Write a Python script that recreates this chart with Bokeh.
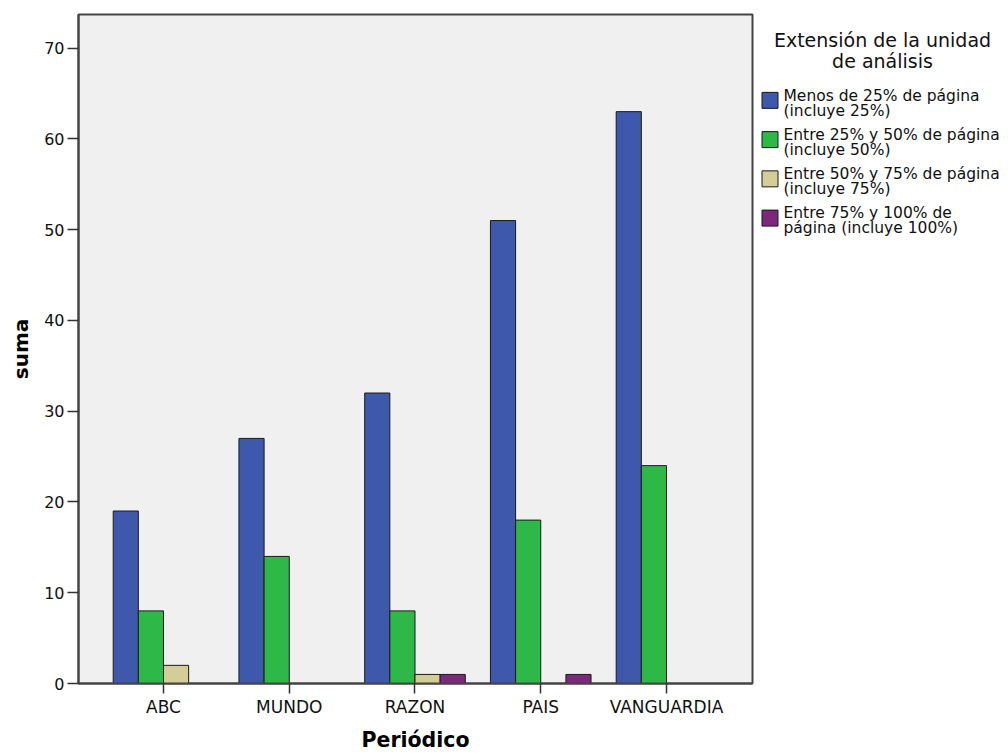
from bokeh.plotting import figure
from bokeh.models import Range1d, FixedTicker, ColumnDataSource
from bokeh.layouts import row
from bokeh.embed import file_html
from bokeh.resources import INLINE
from bokeh.core.properties import value

# ---------------- data ----------------
periodicos = ["ABC", "MUNDO", "RAZON", "PAIS", "VANGUARDIA"]
menos_25 = [19, 27, 32, 51, 63]
entre_25_50 = [8, 14, 8, 18, 24]
entre_50_75 = [2, 0, 1, 0, 0]
entre_75_100 = [0, 0, 1, 1, 0]
series_values = [menos_25, entre_25_50, entre_50_75, entre_75_100]
series_labels = [
    ["Menos de 25% de página", "(incluye 25%)"],
    ["Entre 25% y 50% de página", "(incluye 50%)"],
    ["Entre 50% y 75% de página", "(incluye 75%)"],
    ["Entre 75% y 100% de", "página (incluye 100%)"],
]
legend_title = ["Extensión de la unidad", "de análisis"]
y_ticks = [0, 10, 20, 30, 40, 50, 60, 70]
x_title = "Periódico"
y_title = "suma"

# ---------------- style ----------------
colors = ["#3E58AC", "#2EB848", "#D3CE97", "#7C287D"]
offsets = [-0.3, -0.1, 0.1, 0.3]
bar_w = 0.2
FONT = "DejaVu Sans"
H = 754
W1 = 754
LW = 254
TOP, BOTTOM = 14, 70

p = figure(width=W1, height=H, output_backend="svg", toolbar_location=None,
           x_range=Range1d(-0.676, 4.684), y_range=Range1d(0, 73.7),
           min_border_left=78, min_border_top=TOP, min_border_bottom=BOTTOM,
           min_border_right=2)
p.background_fill_color = "#F0F0F0"
p.border_fill_color = "white"
p.outline_line_color = "#444444"
p.outline_line_width = 2
p.grid.visible = False

for vals, off, col in zip(series_values, offsets, colors):
    xs = [i + off for i, v in enumerate(vals) if v > 0]
    tops = [v for v in vals if v > 0]
    src = ColumnDataSource(dict(x=xs, top=tops))
    p.vbar(x="x", top="top", bottom=0, width=bar_w, source=src,
           fill_color=col, line_color="#1a1a1a", line_width=1)

p.xaxis.ticker = FixedTicker(ticks=list(range(len(periodicos))))
p.xaxis.major_label_overrides = {i: name for i, name in enumerate(periodicos)}
p.yaxis.ticker = FixedTicker(ticks=y_ticks)
for ax in (p.xaxis, p.yaxis):
    ax.axis_line_color = "#444444"
    ax.axis_line_width = 2
    ax.major_tick_line_color = "#333333"
    ax.major_tick_line_width = 1.5
    ax.major_tick_in = 0
    ax.minor_tick_line_color = None
    ax.major_label_text_font = FONT
    ax.major_label_text_color = "#111111"
    ax.axis_label_text_font = FONT
    ax.axis_label_text_font_style = "bold"
    ax.axis_label_text_color = "#000000"
p.xaxis.major_label_text_font_size = "17px"
p.yaxis.major_label_text_font_size = "16px"
p.xaxis.axis_label_text_font_size = "20.5px"
p.yaxis.axis_label_text_font_size = "20px"
p.xaxis.major_tick_out = 10
p.xaxis.major_label_standoff = 3
p.xaxis.axis_label = x_title
p.xaxis.axis_label_standoff = 8
p.yaxis.major_tick_out = 11
p.yaxis.major_label_standoff = 3
p.yaxis.axis_label = y_title
p.yaxis.axis_label_standoff = 8

# ---------------- legend panel ----------------
# the row aligns this panel's frame with the chart frame (page y 14..684),
# so the y range is given in page pixels over that span
lg = figure(width=LW, height=H, output_backend="svg", toolbar_location=None,
            x_range=Range1d(0, LW), y_range=Range1d(H - BOTTOM, TOP),
            x_axis_type=None, y_axis_type=None, title=None,
            min_border=0, min_border_top=TOP, min_border_bottom=BOTTOM,
            outline_line_color=None)
lg.grid.visible = False
lg.background_fill_color = "white"
lg.border_fill_color = "white"

lg.text(x=[128] * len(legend_title), y=[40 + 20.5 * i for i in range(len(legend_title))],
        text=legend_title, text_font=value(FONT), text_font_size="19px",
        text_align="center", text_baseline="alphabetic", text_color="#111111")

n = len(series_labels)
lg.rect(x=[15.5] * n, y=[100 + 39.3 * i for i in range(n)], width=16, height=16,
        width_units="screen", height_units="screen",
        fill_color=colors, line_color="#1a1a1a", line_width=1)
tx, ty, tt = [], [], []
for i, lines in enumerate(series_labels):
    for j, line in enumerate(lines):
        tx.append(29)
        ty.append(95.5 + 39.1 * i + 15.2 * j)
        tt.append(line)
lg.text(x=tx, y=ty, text=tt, text_font=value(FONT), text_font_size="15.5px",
        text_align="left", text_baseline="alphabetic", text_color="#111111")

layout = row(p, lg)
open("out.html", "w").write(file_html(layout, INLINE))
